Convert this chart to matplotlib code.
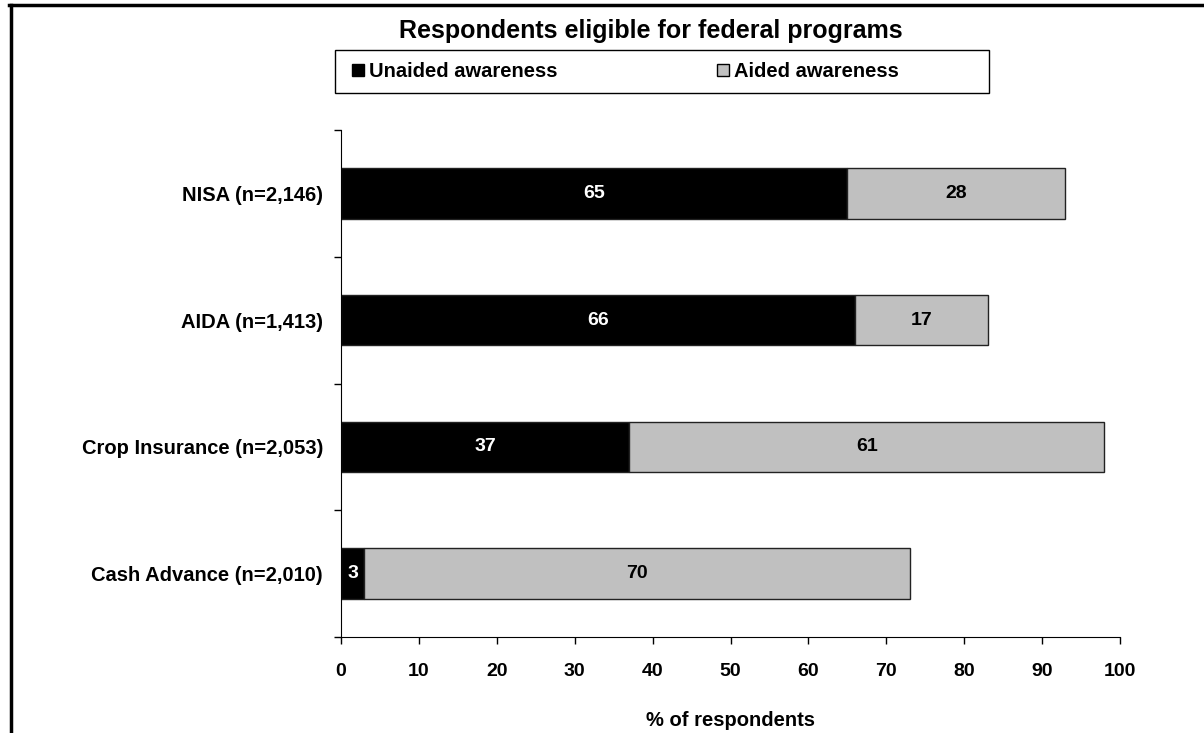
import numpy as np
import matplotlib.pyplot as plt
from matplotlib.patches import Rectangle, Patch
from matplotlib.lines import Line2D

plt.rcParams['font.family'] = ['Liberation Sans', 'DejaVu Sans']
plt.rcParams['font.weight'] = 'bold'

categories = ['NISA (n=2,146)', 'AIDA (n=1,413)', 'Crop Insurance (n=2,053)', 'Cash Advance (n=2,010)']
unaided = [65, 66, 37, 3]
aided = [28, 17, 61, 70]
xticks = [0, 10, 20, 30, 40, 50, 60, 70, 80, 90, 100]


def main():
    fig = plt.figure(figsize=(12.04, 7.33), dpi=100)
    ax = fig.add_axes([341 / 1204, 1 - 637 / 733, (1120 - 341) / 1204, (637 - 130) / 733])

    y = np.arange(len(categories))
    ax.barh(y, unaided, height=0.4, color='black', edgecolor='#222222', linewidth=1)
    ax.barh(y, aided, left=unaided, height=0.4, color='#c0c0c0', edgecolor='#222222', linewidth=1)

    for i in range(len(categories)):
        ax.text(unaided[i] / 2, y[i], str(unaided[i]), color='white', ha='center', va='center',
                fontsize=14, fontweight='bold')
        ax.text(unaided[i] + aided[i] / 2, y[i], str(aided[i]), color='black', ha='center', va='center',
                fontsize=14, fontweight='bold')

    ax.set_ylim(len(categories) - 0.5, -0.5)
    ax.set_xlim(0, 100)
    ax.set_yticks(y)
    ax.set_yticklabels(categories, fontsize=14.5, fontweight='bold')
    ax.set_yticks(np.arange(len(categories) + 1) - 0.5, minor=True)
    ax.tick_params(axis='y', which='major', length=0, pad=13)
    ax.tick_params(axis='y', which='minor', length=5, width=1, direction='out')
    ax.set_xticks(xticks)
    ax.set_xticklabels([str(t) for t in xticks], fontsize=14, fontweight='bold')
    ax.tick_params(axis='x', length=5, width=1, direction='out', pad=14)
    ax.set_xlabel('% of respondents', fontsize=14.5, fontweight='bold', labelpad=22)
    for s in ['top', 'right']:
        ax.spines[s].set_visible(False)

    fig.text(651 / 1204, 1 - 38 / 733, 'Respondents eligible for federal programs', ha='center',
             va='baseline', fontsize=18, fontweight='bold')

    # legend box
    fig.patches.append(Rectangle((335 / 1204, 1 - 93 / 733), 654 / 1204, 43 / 733,
                                 transform=fig.transFigure, facecolor='white', edgecolor='black',
                                 linewidth=1))
    handles = [Patch(facecolor='black', edgecolor='black'),
               Patch(facecolor='#c0c0c0', edgecolor='black')]
    fig.legend(handles, ['Unaided awareness', 'Aided awareness'], ncol=2, frameon=False,
               loc='center left', bbox_to_anchor=(352 / 1204, 1 - 71.5 / 733),
               prop={'size': 14.5, 'weight': 'bold'}, handlelength=0.6, handleheight=0.6,
               handletextpad=0.25, columnspacing=7.9, borderaxespad=0, borderpad=0)

    # outer frame (top and left edges)
    fig.lines.append(Line2D([10.5 / 1204, 10.5 / 1204], [0, 1 - 5 / 733], transform=fig.transFigure,
                            color='black', linewidth=2.5))
    fig.lines.append(Line2D([9 / 1204, 1], [1 - 5 / 733, 1 - 5 / 733], transform=fig.transFigure,
                            color='black', linewidth=2.5))

    fig.savefig('out.png', dpi=100)


if __name__ == '__main__':
    main()
